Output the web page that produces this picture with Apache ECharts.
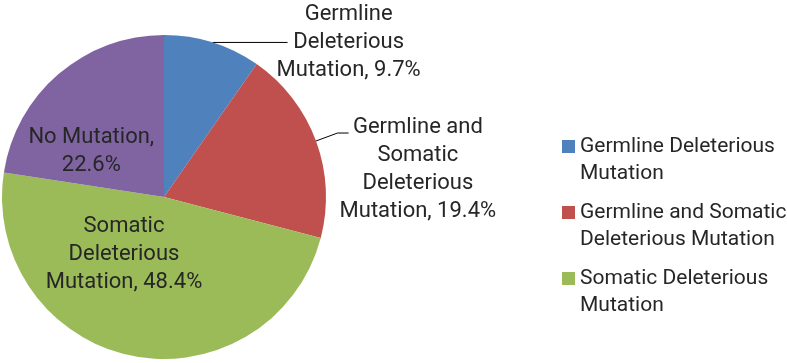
<!DOCTYPE html>
<html><head><meta charset="utf-8">
<script src="https://cdn.jsdelivr.net/npm/echarts@6/dist/echarts.min.js"></script>
<style>html,body{margin:0;padding:0;background:#fff}#c{width:787px;height:363px}</style>
</head><body><div id="c"></div>
<script>
// ---- data ----
const categories = ['Germline Deleterious Mutation', 'Germline and Somatic Deleterious Mutation', 'Somatic Deleterious Mutation', 'No Mutation'];
const values = [9.7, 19.4, 48.4, 22.6];
const labelHeads = ['Germline\nDeleterious\nMutation', 'Germline and\nSomatic\nDeleterious\nMutation', 'Somatic\nDeleterious\nMutation', 'No Mutation'];
const labelSeps = [', ', ', ', ', ', ',\n'];
const legendNames = ['Germline Deleterious Mutation', 'Germline and Somatic Deleterious Mutation', 'Somatic Deleterious Mutation'];
const legendText = ['Germline Deleterious\nMutation', 'Germline and Somatic\nDeleterious Mutation', 'Somatic Deleterious\nMutation'];

// ---- style ----
const colors = ['#4F81BD', '#C0504D', '#9BBB59', '#8064A2'];
const FONT = 'Roboto', FS = 22, LH = 28, TXT = '#262626';
const rich = { c: { align: 'center', fontFamily: FONT, fontSize: FS, lineHeight: LH, color: TXT } };
const legendRich = { a: { align: 'left', fontFamily: FONT, fontSize: 21, lineHeight: 27, color: TXT } };
const labelOpts = [
  { position: 'outside', distanceToLabelLine: -11 },
  { position: 'outside', distanceToLabelLine: -9, padding: [72, 0, 0, 0] },
  { position: 'inside', padding: [0, 46, 50, 0] },
  { position: 'inside', padding: [36, 36, 0, 0] }
];
const lineOpts = [{ length: 0, length2: 75 }, { length: 23, length2: 11 }, {}, {}];

function toRich(s, key) {
  return s.split('\n').map(l => '{' + key + '|' + l + '}').join('\n');
}
function richLabel(i) {
  return toRich(labelHeads[i] + labelSeps[i] + values[i].toFixed(1) + '%', 'c');
}

const chart = echarts.init(document.getElementById('c'), null, { renderer: 'canvas' });
chart.setOption({
  animation: false,
  backgroundColor: '#fff',
  legend: {
    orient: 'vertical', left: 562, top: 106, padding: 0,
    itemWidth: 13, itemHeight: 13, itemGap: -15, icon: 'rect', selectedMode: false,
    data: legendNames,
    formatter: n => toRich(legendText[legendNames.indexOf(n)], 'a'),
    textStyle: { fontFamily: FONT, fontSize: 21, lineHeight: 27, color: TXT, padding: [27, 0, 0, 0], rich: legendRich }
  },
  series: [{
    type: 'pie', center: [164, 197], radius: 162, startAngle: 90, clockwise: true,
    avoidLabelOverlap: false, silent: true,
    itemStyle: { borderWidth: 0 },
    label: { show: true, formatter: p => richLabel(p.dataIndex), rich: rich, color: TXT },
    labelLine: { show: true, lineStyle: { color: '#000', width: 1 } },
    data: values.map((v, i) => ({
      name: categories[i], value: v,
      itemStyle: { color: colors[i] },
      label: labelOpts[i], labelLine: lineOpts[i]
    }))
  }]
});
</script></body></html>
